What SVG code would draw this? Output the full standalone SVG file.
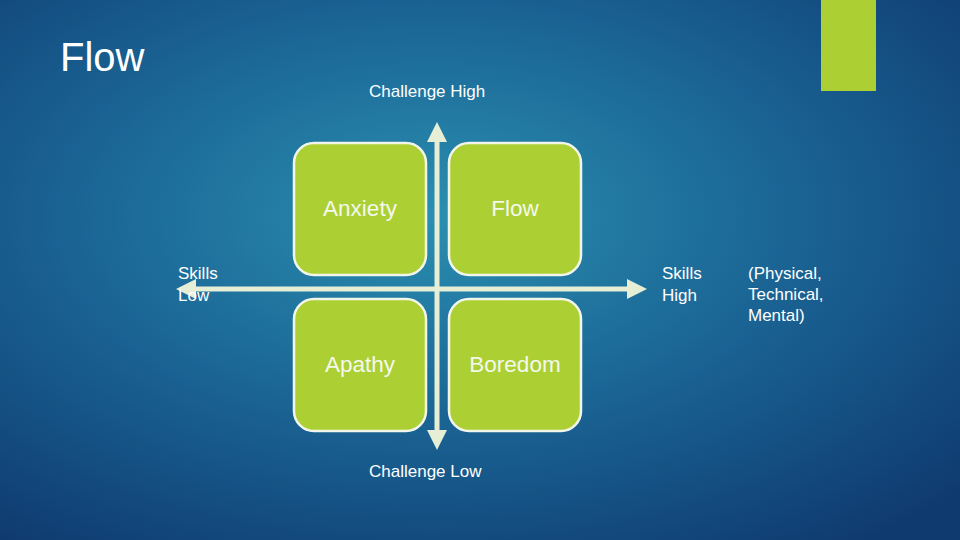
<svg xmlns="http://www.w3.org/2000/svg" width="960" height="540" viewBox="0 0 960 540">
<defs>
<radialGradient id="bg" cx="0.45" cy="0.4" r="0.75">
<stop offset="0" stop-color="#2a8fb0"/>
<stop offset="0.5" stop-color="#1a6494"/>
<stop offset="1" stop-color="#0f3a70"/>
</radialGradient>
<marker id="ah" viewBox="0 0 10 10" refX="5" refY="5" markerWidth="4" markerHeight="4" orient="auto-start-reverse"><path d="M0,0 L10,5 L0,10 z" fill="#e6eed6"/></marker>
</defs>
<style>
.box{fill:#acd033;stroke:#f2f6ea;stroke-width:2.5}
.bt{font-family:"Liberation Sans",Arial,sans-serif;font-size:22.5px;fill:#f4f8ee;text-anchor:middle}
.lt{font-family:"Liberation Sans",Arial,sans-serif;font-size:17px;fill:#ffffff}
.ax{stroke:#e6eed6;stroke-width:5}
</style>
<rect width="960" height="540" fill="url(#bg)"/>
<rect x="821" y="0" width="55" height="91" fill="#acd033"/>
<text x="60" y="71" font-family="Liberation Sans,Arial,sans-serif" font-size="40" fill="#ffffff">Flow</text>
<g id="connectors">
<line class="ax" x1="437" y1="132" x2="437" y2="440" marker-start="url(#ah)" marker-end="url(#ah)"/>
<line class="ax" x1="186" y1="289" x2="637" y2="289" marker-start="url(#ah)" marker-end="url(#ah)"/>
</g>
<g id="anxiety"><rect class="box" x="294" y="143" width="132" height="132" rx="20"/><text class="bt" x="360" y="216">Anxiety</text></g>
<g id="flow"><rect class="box" x="449" y="143" width="132" height="132" rx="20"/><text class="bt" x="515" y="216">Flow</text></g>
<g id="apathy"><rect class="box" x="294" y="299" width="132" height="132" rx="20"/><text class="bt" x="360" y="372">Apathy</text></g>
<g id="boredom"><rect class="box" x="449" y="299" width="132" height="132" rx="20"/><text class="bt" x="515" y="372">Boredom</text></g>
<text class="lt" x="369" y="97">Challenge High</text>
<text class="lt" x="369" y="477">Challenge Low</text>
<text class="lt" x="178" y="279">Skills</text><text class="lt" x="178" y="301">Low</text>
<text class="lt" x="662" y="279">Skills</text><text class="lt" x="662" y="301">High</text>
<text class="lt" x="748" y="279">(Physical,</text><text class="lt" x="748" y="300">Technical,</text><text class="lt" x="748" y="321">Mental)</text>
</svg>
